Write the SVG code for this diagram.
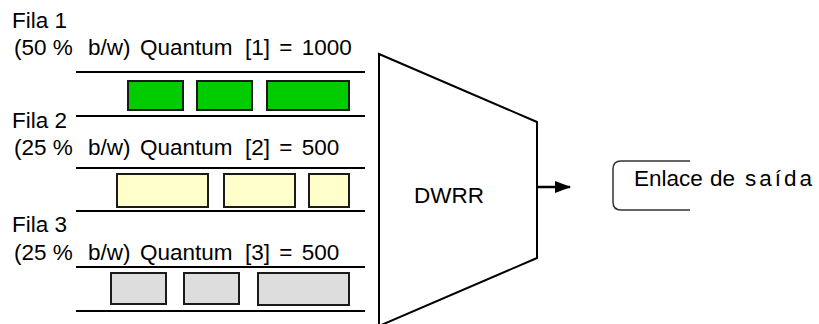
<svg xmlns="http://www.w3.org/2000/svg" width="819" height="324" viewBox="0 0 819 324">
  <style>
    .t { font-family: "Liberation Sans", Arial, sans-serif; font-size: 22.5px; fill: #000; }
    .rail { stroke: #000; stroke-width: 2; }
    .pkt { stroke: #1a1a1a; stroke-width: 2; }
    .g { fill: #00cc00; }
    .y { fill: #ffffcc; }
    .s { fill: #dddddd; }
  </style>
  <defs>
    <marker id="head" viewBox="0 0 16 12" refX="15" refY="6" markerWidth="16" markerHeight="12" markerUnits="userSpaceOnUse" orient="auto">
      <path d="M0,0 L16,6 L0,12 Z" fill="#000"/>
    </marker>
  </defs>

  <rect width="819" height="324" fill="#fff"/>

  <!-- queue 1 -->
  <g id="fila1">
    <text class="t" x="12" y="28">Fila 1</text>
    <text class="t" y="55"><tspan x="14">(50 %</tspan><tspan x="88">b/w)</tspan><tspan x="140">Quantum</tspan><tspan x="245" word-spacing="3">[1] = 1000</tspan></text>
    <line class="rail" x1="76" y1="72" x2="365" y2="72"/>
    <line class="rail" x1="76" y1="116" x2="365" y2="116"/>
    <rect class="pkt g" x="128" y="81" width="55" height="29"/>
    <rect class="pkt g" x="197" y="81" width="55" height="29"/>
    <rect class="pkt g" x="267" y="81" width="82" height="29"/>
  </g>

  <!-- queue 2 -->
  <g id="fila2">
    <text class="t" x="12" y="128">Fila 2</text>
    <text class="t" y="155"><tspan x="14">(25 %</tspan><tspan x="88">b/w)</tspan><tspan x="140">Quantum</tspan><tspan x="245" word-spacing="3">[2] = 500</tspan></text>
    <line class="rail" x1="76" y1="168" x2="365" y2="168"/>
    <line class="rail" x1="76" y1="211" x2="365" y2="211"/>
    <rect class="pkt y" x="117" y="174" width="91" height="33"/>
    <rect class="pkt y" x="224" y="174" width="71" height="33"/>
    <rect class="pkt y" x="309" y="174" width="40" height="33"/>
  </g>

  <!-- queue 3 -->
  <g id="fila3">
    <text class="t" x="12" y="232">Fila 3</text>
    <text class="t" y="260"><tspan x="14">(25 %</tspan><tspan x="88">b/w)</tspan><tspan x="140">Quantum</tspan><tspan x="245" word-spacing="3">[3] = 500</tspan></text>
    <line class="rail" x1="76" y1="267" x2="365" y2="267"/>
    <line class="rail" x1="76" y1="311" x2="365" y2="311"/>
    <rect class="pkt s" x="111" y="273" width="55" height="31"/>
    <rect class="pkt s" x="184" y="273" width="55" height="31"/>
    <rect class="pkt s" x="258" y="273" width="91" height="32"/>
  </g>

  <!-- scheduler -->
  <g id="dwrr">
    <polygon points="379,54 537,122 537,258 379,326" fill="#fff" stroke="#000" stroke-width="2"/>
    <text class="t" x="414" y="203" font-size="24">DWRR</text>
  </g>

  <!-- output link -->
  <g id="enlace">
    <path d="M690,161 H621 Q613,161 613,169 V202 Q613,210 621,210 H690" fill="none" stroke="#333" stroke-width="1.5"/>
    <text class="t" y="186"><tspan x="634">Enlace</tspan><tspan x="710">de</tspan><tspan x="745" letter-spacing="3">saída</tspan></text>
  </g>

  <g id="connectors">
    <line x1="537" y1="187" x2="570" y2="187" stroke="#000" stroke-width="2.5" marker-end="url(#head)"/>
  </g>
</svg>
